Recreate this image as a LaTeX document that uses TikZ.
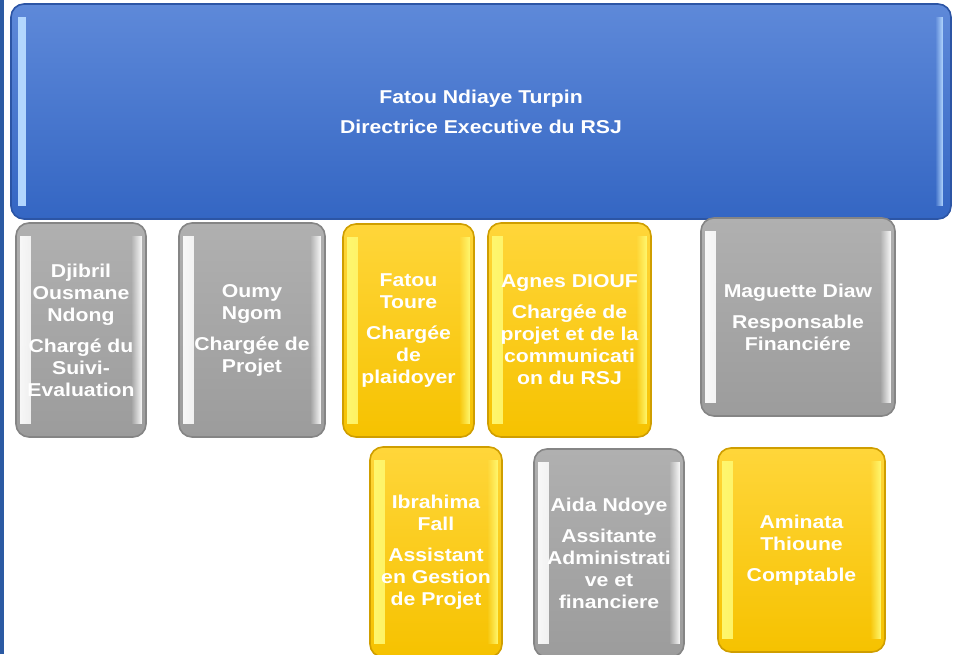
\documentclass[tikz,border=0pt]{standalone}
\usepackage{fontspec}
\setmainfont{Liberation Sans}[FakeStretch=1.14]
\usetikzlibrary{fadings}
\newcommand\orgfont{\bfseries\fontsize{18.6}{22}\selectfont}
\definecolor{grayTop}{HTML}{B0B0B0}
\definecolor{grayBot}{HTML}{9C9C9C}
\definecolor{grayRim}{HTML}{858585}
\definecolor{grayLight}{HTML}{FAFAFA}
\definecolor{yelTop}{HTML}{FFD63A}
\definecolor{yelBot}{HTML}{F6C200}
\definecolor{yelRim}{HTML}{CF9E00}
\definecolor{yelLight}{HTML}{FFF870}
\definecolor{bluTop}{HTML}{5E89D9}
\definecolor{bluBot}{HTML}{3466C3}
\definecolor{bluRim}{HTML}{2C55A5}
\definecolor{bluLight}{HTML}{B4D8FF}
\definecolor{barBlue}{HTML}{2B5AA3}
\tikzset{
  bevel/.style n args={6}{%
    draw=#1, line width=1.6pt, rounded corners=13pt, top color=#2, bottom color=#3,
    inner sep=0pt, text=white, align=center, font=\orgfont,
    path picture={
      \fill[#4, path fading=east, sharp corners]
        ([xshift=#5,yshift=-13pt]path picture bounding box.north west) rectangle
        ([xshift=#5+#6,yshift=13pt]path picture bounding box.south west);
      \fill[#4, path fading=west, sharp corners]
        ([xshift=-#5-#6,yshift=-13pt]path picture bounding box.north east) rectangle
        ([xshift=-#5,yshift=13pt]path picture bounding box.south east);
    }},
  graybox/.style={bevel={grayRim}{grayTop}{grayBot}{grayLight}{4pt}{11pt}},
  yelbox/.style={bevel={yelRim}{yelTop}{yelBot}{yelLight}{4pt}{11pt}},
  blubox/.style={bevel={bluRim}{bluTop}{bluBot}{bluLight}{8pt}{8pt}},
}
\begin{document}
\begin{tikzpicture}[x=1pt,y=-1pt]
\useasboundingbox (0,0) rectangle (954,654);
\fill[barBlue] (0,0) rectangle (3.5,654);
\node[blubox, minimum width=940pt, minimum height=215pt] (dir) at (481,111.5)
  {Fatou Ndiaye Turpin\\[8pt]Directrice Executive du RSJ};
\node[graybox, minimum width=130pt, minimum height=214pt] (djibril) at (81,330)
  {Djibril\\Ousmane\\Ndong\\[9pt]Chargé du\\Suivi-\\Evaluation};
\node[graybox, minimum width=146pt, minimum height=214pt] (oumy) at (252,330)
  {Oumy\\Ngom\\[9pt]Chargée de\\Projet};
\node[yelbox, minimum width=131pt, minimum height=213pt] (fatou) at (408.5,330.5)
  {Fatou\\Toure\\[9pt]Chargée\\de\\plaidoyer};
\node[yelbox, minimum width=163pt, minimum height=214pt] (agnes) at (569.5,330)
  {Agnes DIOUF\\[9pt]Chargée de\\projet et de la\\communicati\\on du RSJ};
\node[graybox, minimum width=194pt, minimum height=198pt] (maguette) at (798,317)
  {Maguette Diaw\\[9pt]Responsable\\Financiére};
\node[yelbox, minimum width=132pt, minimum height=210pt] (ibrahima) at (436,552)
  {Ibrahima\\Fall\\[9pt]Assistant\\en Gestion\\de Projet};
\node[graybox, minimum width=150pt, minimum height=208pt] (aida) at (609,553)
  {Aida Ndoye\\[9pt]Assitante\\Administrati\\ve et\\financiere};
\node[yelbox, minimum width=167pt, minimum height=204pt] (aminata) at (801.5,550)
  {Aminata\\Thioune\\[9pt]Comptable};
\end{tikzpicture}
\end{document}
